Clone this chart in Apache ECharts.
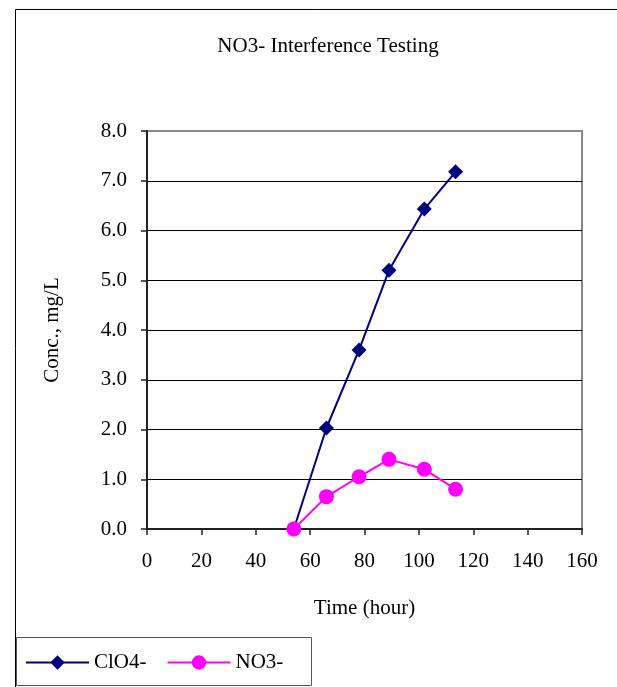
<!DOCTYPE html>
<html>
<head>
<meta charset="utf-8">
<script src="https://cdn.jsdelivr.net/npm/echarts@6/dist/echarts.min.js"></script>
<style>
html,body{margin:0;padding:0;background:#fff;}
#c{width:617px;height:687px;}
</style>
</head>
<body>
<div id="c"></div>
<script>
const timeClO4 = [54, 66, 78, 89, 102, 113.5];
const valClO4 = [0.0, 2.03, 3.6, 5.2, 6.43, 7.18];
const timeNO3 = [54, 66, 78, 89, 102, 113.5];
const valNO3 = [0.0, 0.65, 1.05, 1.4, 1.2, 0.8];
const seriesNames = ['ClO4-', 'NO3-'];
const titleText = 'NO3- Interference Testing';
const xName = 'Time (hour)';
const yName = 'Conc., mg/L';

const FONT = '"Liberation Serif", "Times New Roman", serif';
const FS = 21;
const chart = echarts.init(document.getElementById('c'), null, {renderer: 'canvas'});
chart.setOption({
  animation: false,
  backgroundColor: '#fff',
  textStyle: {fontFamily: FONT, color: '#000'},
  title: {
    text: titleText, left: 323, top: 31, textAlign: 'center',
    textStyle: {fontFamily: FONT, fontSize: FS, fontWeight: 'normal', color: '#000'}
  },
  graphic: [
    {type: 'rect', shape: {x: 15.5, y: 9.5, width: 640, height: 700}, style: {fill: 'none', stroke: '#000', lineWidth: 1}, silent: true, z: -10},
    {type: 'rect', shape: {x: 16.5, y: 637.5, width: 295, height: 48}, style: {fill: '#fff', stroke: '#555', lineWidth: 1}, silent: true, z: -5}
  ],
  grid: {
    left: 147, right: 35, top: 131, bottom: 158,
    show: true, borderColor: '#888', borderWidth: 2, backgroundColor: 'transparent'
  },
  legend: {
    left: 25, top: 652, padding: 0, itemWidth: 63, itemHeight: 18, itemGap: 20,
    textStyle: {fontFamily: FONT, fontSize: FS, color: '#000'},
    data: seriesNames
  },
  xAxis: {
    type: 'value', min: 0, max: 160, interval: 20,
    name: xName, nameLocation: 'middle', nameGap: 69,
    nameTextStyle: {fontFamily: FONT, fontSize: FS, color: '#000'},
    axisLine: {show: true, onZero: false, lineStyle: {color: '#222', width: 2}},
    axisTick: {show: true, inside: false, length: 6, lineStyle: {color: '#222', width: 1.5}},
    axisLabel: {margin: 22, fontFamily: FONT, fontSize: FS, color: '#000'},
    splitLine: {show: false}
  },
  yAxis: {
    type: 'value', min: 0, max: 8, interval: 1,
    name: yName, nameLocation: 'middle', nameGap: 84, nameRotate: 90,
    nameTextStyle: {fontFamily: FONT, fontSize: FS, color: '#000'},
    axisLine: {show: true, lineStyle: {color: '#222', width: 2}},
    axisTick: {show: true, inside: false, length: 6, lineStyle: {color: '#222', width: 1.5}},
    axisLabel: {margin: 20, fontFamily: FONT, fontSize: FS, color: '#000', formatter: v => v.toFixed(1)},
    splitLine: {show: true, lineStyle: {color: ['#000', '#000', '#000', '#000', '#000', '#000', '#000', '#000', '#888'], width: 1}}
  },
  series: [
    {
      name: seriesNames[0], type: 'line',
      data: timeClO4.map((t, i) => [t, valClO4[i]]),
      symbol: 'diamond', symbolSize: [15, 15],
      lineStyle: {color: '#000080', width: 2},
      itemStyle: {color: '#000080'}, z: 3
    },
    {
      name: seriesNames[1], type: 'line',
      data: timeNO3.map((t, i) => [t, valNO3[i]]),
      symbol: 'circle', symbolSize: 15,
      lineStyle: {color: '#FF00FF', width: 2},
      itemStyle: {color: '#FF00FF'}, z: 4
    }
  ]
});
</script>
</body>
</html>
